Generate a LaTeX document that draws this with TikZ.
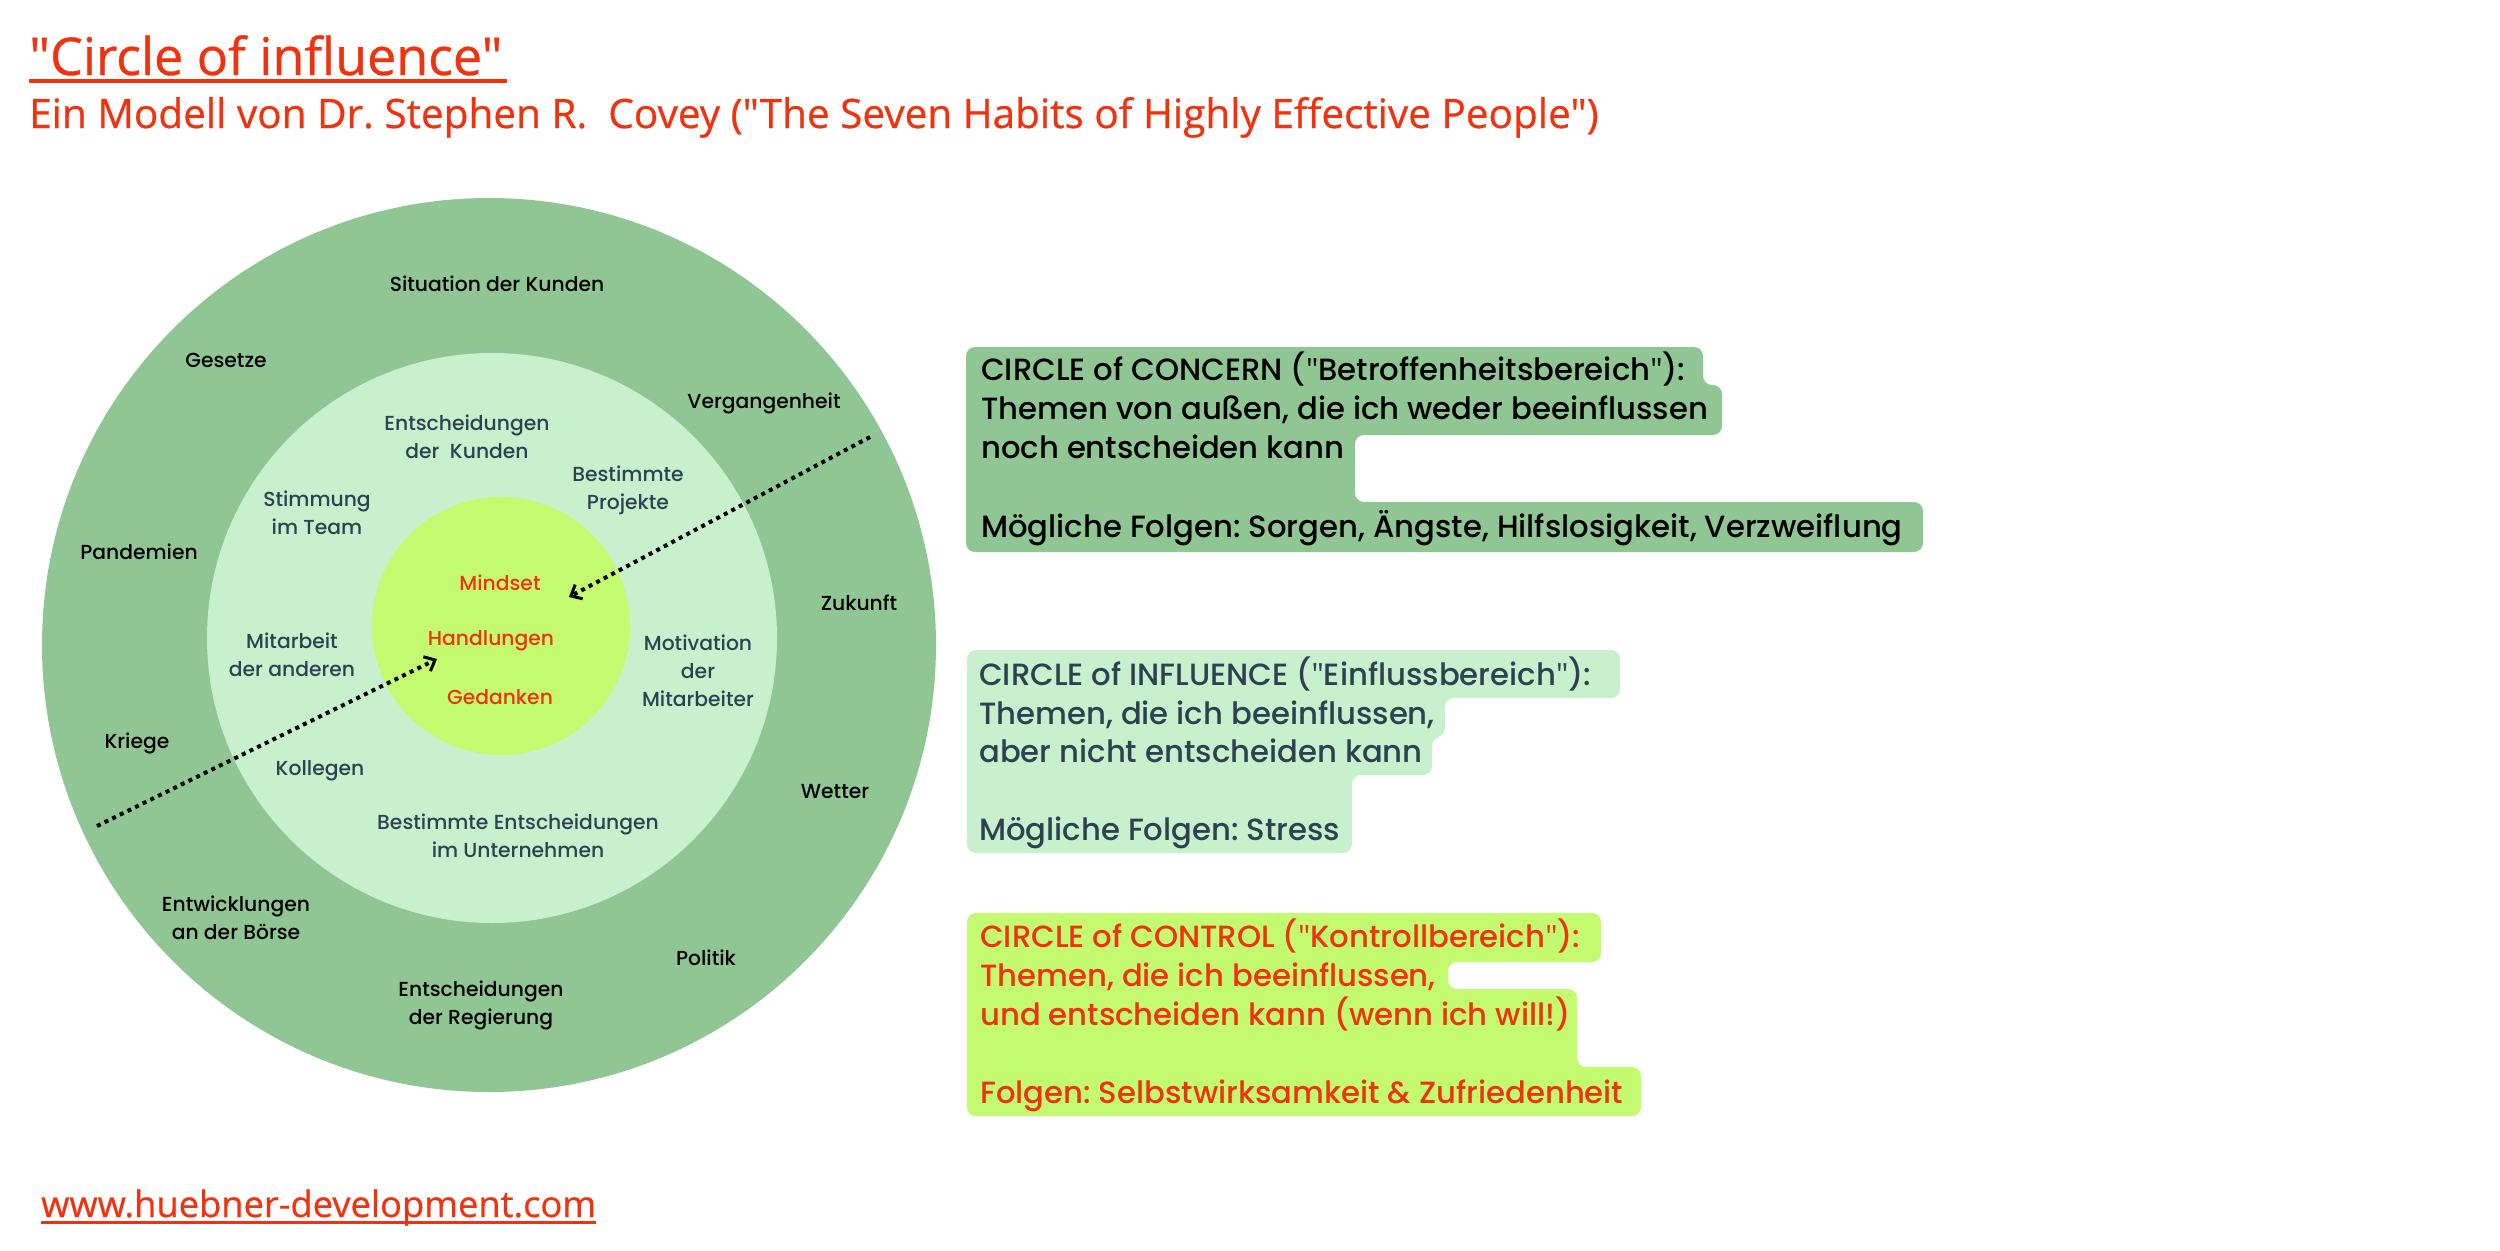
\documentclass[tikz,border=0pt]{standalone}
\usepackage{fontspec}
\setmainfont{Poppins}[UprightFont=* Medium]
\newfontfamily\titlefont[FakeBold=0.6]{Open Sans}
\newfontfamily\qfont{Open Sans}
\newcommand{\dq}{{\qfont"}}
\usetikzlibrary{arrows.meta}
\definecolor{outerg}{RGB}{143,198,148}
\definecolor{midg}{RGB}{201,240,205}
\definecolor{innerg}{RGB}{195,250,112}
\definecolor{redt}{RGB}{240,50,15}
\definecolor{slate}{RGB}{44,66,80}
\frenchspacing
\begin{document}
\begin{tikzpicture}[x=1pt,y=-1pt,
  lbl/.style={align=center,inner sep=0pt,font=\fontsize{20.3}{28}\selectfont},
  olbl/.style={lbl,text=black},
  mlbl/.style={lbl,text=slate},
  ilbl/.style={lbl,text=redt},
  boxline/.style={anchor=base west,inner sep=0pt,font=\fontsize{30.7}{39}\selectfont},
  dotarrow/.style={line width=4pt,dash pattern=on 4pt off 4.5pt,
    -{Straight Barb[length=9pt,width=16pt,line width=3pt]}},
  hl/.style={rounded corners=9pt}]
\useasboundingbox (0,0) rectangle (2500,1250);
\fill[white] (0,0) rectangle (2500,1250);

% title
\node[anchor=base west,inner sep=0pt,text=redt,font=\titlefont\fontsize{52}{60}\selectfont] (title) at (29,75) {"Circle of influence"};
\fill[redt] (29,79) rectangle (507,83);
\node[anchor=base west,inner sep=0pt,text=redt,font=\titlefont\fontsize{40.5}{46}\selectfont] (subtitle) at (29,128) {Ein Modell von Dr. Stephen R.~~Covey ("The Seven Habits of Highly Effective People")};

% circles
\fill[outerg] (489,645) circle[radius=447];
\fill[midg] (492,638) circle[radius=285];
\fill[innerg] (501,626) circle[radius=129];

% outer labels
\node[olbl] (o1) at (497,284) {Situation der Kunden};
\node[olbl] (o2) at (226,360) {Gesetze};
\node[olbl] (o3) at (764,403) {Vergangenheit};
\node[olbl] (o4) at (139,552) {Pandemien};
\node[olbl] (o5) at (859,603) {Zukunft};
\node[olbl] (o6) at (137,743) {Kriege};
\node[olbl] (o7) at (835,792) {Wetter};
\node[olbl] (o8) at (236,918) {Entwicklungen\\an der Börse};
\node[olbl] (o9) at (706,958) {Politik};
\node[olbl] (o10) at (481,1005) {Entscheidungen\\der Regierung};

% middle labels
\node[mlbl] (m1) at (467,437) {Entscheidungen\\der~~Kunden};
\node[mlbl] (m2) at (317,513) {Stimmung\\ im Team};
\node[mlbl] (m3) at (628,490) {Bestimmte\\Projekte};
\node[mlbl] (m4) at (292,655) {Mitarbeit\\der anderen};
\node[mlbl] (m5) at (698,671) {Motivation\\der\\Mitarbeiter};
\node[mlbl] (m6) at (320,771) {Kollegen};
\node[mlbl] (m7) at (518,836) {Bestimmte Entscheidungen\\im Unternehmen};

% inner labels
\node[ilbl] (i1) at (500,583) {Mindset};
\node[ilbl] (i2) at (491,641) {Handlungen};
\node[ilbl] (i3) at (500,697) {Gedanken};

% arrows
\coordinate (a1s) at (870,437);
\coordinate (a1e) at (569,597);
\coordinate (a2s) at (97,826);
\coordinate (a2e) at (437,659);
\draw[dotarrow] (a1s) -- (a1e);
\draw[dotarrow] (a2s) -- (a2e);

% box 1: concern
\fill[outerg,hl] (966,347) -- (1703,347) -- (1703,385) -- (1722,385) -- (1722,435) -- (1355,435) -- (1355,502) -- (1923,502) -- (1923,552) -- (966,552) -- cycle;
\node[boxline,text=black] (b1a) at (981,380) {CIRCLE of CONCERN (\dq Betroffenheitsbereich\dq):};
\node[boxline,text=black] (b1b) at (981,419) {Themen von außen, die ich weder beeinflussen};
\node[boxline,text=black] (b1c) at (981,458) {noch entscheiden kann};
\node[boxline,text=black] (b1d) at (981,537) {Mögliche Folgen: Sorgen, Ängste, Hilfslosigkeit, Verzweiflung};

% box 2: influence
\fill[midg,hl] (967,650) -- (1620,650) -- (1620,698) -- (1445,698) -- (1445,737) -- (1432,737) -- (1432,775) -- (1352,775) -- (1352,853) -- (967,853) -- cycle;
\node[boxline,text=slate] (b2a) at (979,685) {CIRCLE of INFLUENCE (\dq Einflussbereich\dq):};
\node[boxline,text=slate] (b2b) at (979,724) {Themen, die ich beeinflussen,};
\node[boxline,text=slate] (b2c) at (979,762) {aber nicht entscheiden kann};
\node[boxline,text=slate] (b2d) at (979,840) {Mögliche Folgen: Stress};

% box 3: control
\fill[innerg,hl] (967,913) -- (1601,913) -- (1601,962) -- (1448,962) -- (1448,989) -- (1577,989) -- (1577,1067) -- (1641,1067) -- (1641,1116) -- (967,1116) -- cycle;
\node[boxline,text=redt] (b3a) at (980,947) {CIRCLE of CONTROL (\dq Kontrollbereich\dq):};
\node[boxline,text=redt] (b3b) at (980,986) {Themen, die ich beeinflussen,};
\node[boxline,text=redt] (b3c) at (980,1025) {und entscheiden kann (wenn ich will!)};
\node[boxline,text=redt] (b3d) at (980,1103) {Folgen: Selbstwirksamkeit \& Zufriedenheit};

% url
\node[anchor=base west,inner sep=0pt,text=redt,font=\titlefont\fontsize{36.3}{42}\selectfont] (url) at (41,1217) {www.huebner-development.com};
\fill[redt] (41,1221) rectangle (596,1224);
\end{tikzpicture}
\end{document}
